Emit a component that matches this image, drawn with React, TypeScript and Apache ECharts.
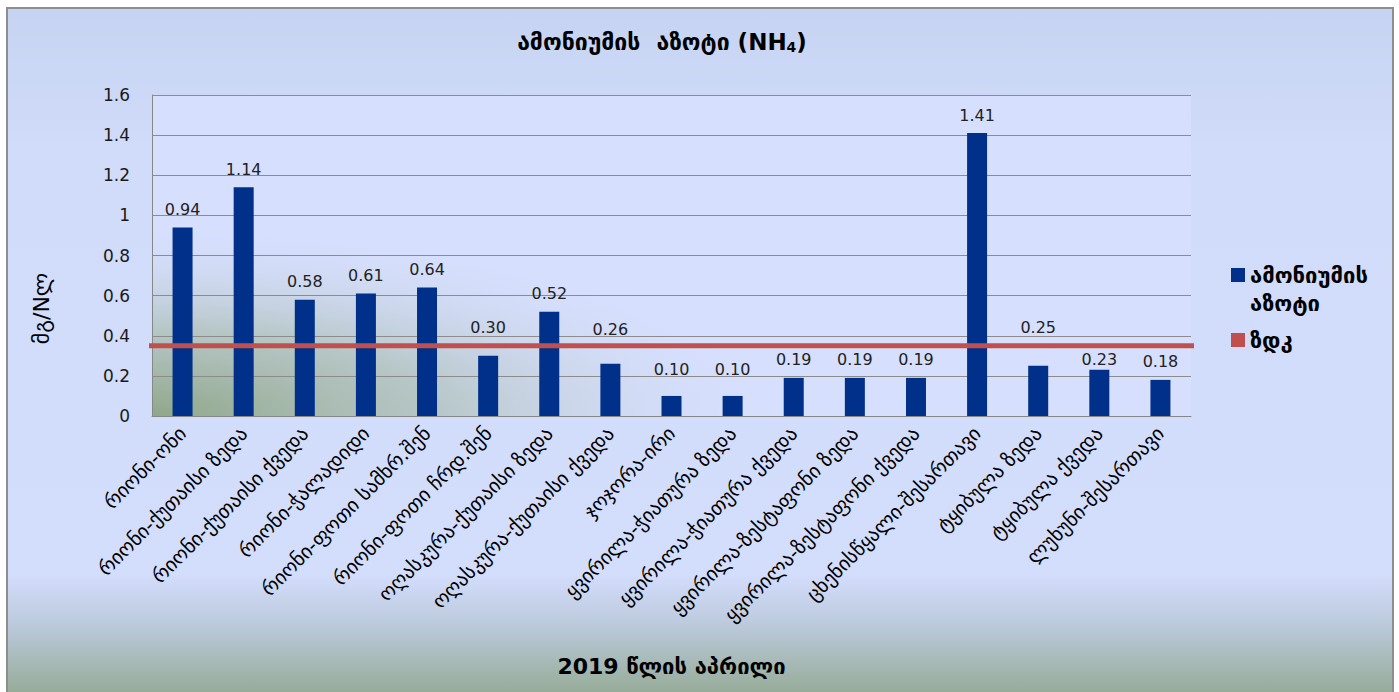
import React, { useEffect, useRef } from "react";
import * as echarts from "echarts";

// Sampling stations (April 2019)
const stations = [
  "რიონი-ონი",
  "რიონი-ქუთაისი ზედა",
  "რიონი-ქუთაისი ქვედა",
  "რიონი-ჭალადიდი",
  "რიონი-ფოთი სამხრ.შენ",
  "რიონი-ფოთი ჩრდ.შენ",
  "ოღასკურა-ქუთაისი ზედა",
  "ოღასკურა-ქუთაისი ქვედა",
  "ჯოჯორა-ირი",
  "ყვირილა-ჭიათურა ზედა",
  "ყვირილა-ჭიათურა ქვედა",
  "ყვირილა-ზესტაფონი ზედა",
  "ყვირილა-ზესტაფონი ქვედა",
  "ცხენისწყალი-შესართავი",
  "ტყიბულა ზედა",
  "ტყიბულა ქვედა",
  "ლუხუნი-შესართავი",
];

// Ammonium nitrogen, mg N/l
const ammonium = [
  0.94, 1.14, 0.58, 0.61, 0.64, 0.3, 0.52, 0.26, 0.1, 0.1, 0.19, 0.19, 0.19,
  1.41, 0.25, 0.23, 0.18,
];

// Maximum permissible concentration
const mpcValue = 0.35;

const seriesNames = ["ამონიუმის აზოტი", "ზდკ"];
const titleText = "ამონიუმის  აზოტი (NH{sub|4})";
const xAxisTitle = "2019 წლის აპრილი";
const yAxisTitle = "მგ/Nლ";

const yMin = 0;
const yMax = 1.6;
const yStep = 0.2;

const FONT = "'DejaVu Sans', 'Noto Sans', sans-serif";

// Per-bar adjustment of the value label gap, so labels clear the limit line
const labelLift: Record<number, number> = { 5: 10, 7: 16, 8: 8, 9: 8, 14: 20, 15: -8 };

// Horizontal span of the limit line on a hidden 0..1 value axis
const limitSpan = [-0.01, 1.016];

export default function App() {
  const ref = useRef<HTMLDivElement>(null);

  useEffect(() => {
    if (!ref.current) return;
    const chart = echarts.init(ref.current, undefined, { renderer: "svg" });

    const gridLeft = 152;
    const gridTop = 95;
    const gridRight = 208;
    const gridBottom = 276;
    const plotW = 1399 - gridLeft - gridRight;
    const plotH = 692 - gridTop - gridBottom;

    chart.setOption({
      animation: false,
      backgroundColor: "#ffffff",
      graphic: [
        {
          type: "rect",
          z: -10,
          silent: true,
          shape: { x: 7, y: 8, width: 1386, height: 700 },
          style: {
            fill: new echarts.graphic.LinearGradient(0, 0, 0, 1, [
              { offset: 0, color: "#c5d4f2" },
              { offset: 0.2, color: "#d1dbfa" },
              { offset: 0.81, color: "#d3ddfc" },
              { offset: 0.88, color: "#bccadc" },
              { offset: 1, color: "#8ea58a" },
            ]),
            stroke: "#8e8e8e",
            lineWidth: 2,
          },
        },
        {
          type: "rect",
          z: -9,
          silent: true,
          shape: { x: gridLeft, y: gridTop, width: plotW, height: plotH },
          style: { fill: "#d6dffd" },
        },
        {
          type: "rect",
          z: -8,
          silent: true,
          shape: { x: gridLeft, y: gridTop, width: plotW, height: plotH },
          style: {
            fill: new echarts.graphic.RadialGradient(0, 1, 0.6, [
              { offset: 0, color: "rgba(140,164,132,0.95)" },
              { offset: 0.45, color: "rgba(172,190,180,0.75)" },
              { offset: 1, color: "rgba(214,223,253,0)" },
            ]),
          },
        },
      ],
      title: {
        text: titleText,
        left: 662,
        top: 29,
        textAlign: "center",
        padding: 0,
        textStyle: {
          fontFamily: FONT,
          fontSize: 23,
          fontWeight: "bold",
          color: "#000",
          rich: {
            sub: {
              fontFamily: FONT,
              fontSize: 14,
              fontWeight: "bold",
              color: "#000",
              verticalAlign: "bottom",
              padding: [11, 0, 0, 0],
            },
          },
        },
      },
      legend: {
        orient: "vertical",
        left: 1226,
        top: 228,
        icon: "rect",
        itemWidth: 14,
        itemHeight: 14,
        itemGap: 9,
        // leading blank line keeps the swatch level with the first text line
        formatter: (name: string) =>
          name.indexOf(" ") >= 0 ? "\n" + name.replace(" ", "\n") : name,
        textStyle: {
          fontFamily: FONT,
          fontSize: 22,
          fontWeight: "bold",
          color: "#000",
          lineHeight: 28,
        },
        data: seriesNames,
      },
      grid: {
        left: gridLeft,
        right: gridRight,
        top: gridTop,
        bottom: gridBottom,
        containLabel: false,
      },
      xAxis: [
        {
          type: "category",
          data: stations,
          axisLine: { show: true, lineStyle: { color: "#878787", width: 1 } },
          axisTick: { show: false },
          axisLabel: {
            rotate: 45,
            margin: 14,
            interval: 0,
            fontFamily: FONT,
            fontSize: 20,
            color: "#000",
          },
          name: xAxisTitle,
          nameLocation: "middle",
          nameGap: 239,
          nameTextStyle: {
            fontFamily: FONT,
            fontSize: 22,
            fontWeight: "bold",
            color: "#000",
          },
        },
        {
          type: "value",
          min: 0,
          max: 1,
          show: false,
          splitLine: { show: false },
        },
      ],
      yAxis: {
        type: "value",
        min: yMin,
        max: yMax,
        interval: yStep,
        axisLine: { show: true, lineStyle: { color: "#878787", width: 1 } },
        axisTick: { show: false },
        splitLine: { show: true, lineStyle: { color: "#8c8c8c", width: 1 } },
        axisLabel: {
          margin: 22,
          fontFamily: FONT,
          fontSize: 17,
          color: "#1a1a1a",
        },
        name: yAxisTitle,
        nameLocation: "middle",
        nameGap: 100,
        nameRotate: 90,
        nameTextStyle: {
          fontFamily: FONT,
          fontSize: 22,
          color: "#000",
          padding: [0, 106, 0, 0],
        },
      },
      series: [
        {
          name: seriesNames[0],
          type: "bar",
          barWidth: 20,
          itemStyle: { color: "#00308a" },
          label: {
            show: true,
            position: "top",
            distance: 10,
            fontFamily: FONT,
            fontSize: 16,
            color: "#222",
            formatter: (p: any) => Number(p.value).toFixed(2),
          },
          data: ammonium.map((v, i) => ({
            value: v,
            label: { distance: 10 + (labelLift[i] ?? 0) },
          })),
          z: 2,
        },
        {
          name: seriesNames[1],
          type: "line",
          xAxisIndex: 1,
          symbol: "none",
          clip: false,
          silent: true,
          color: "#c0504d",
          lineStyle: { color: "#c0504d", width: 5 },
          data: limitSpan.map((x) => [x, mpcValue]),
          z: 3,
        },
      ],
    });

    return () => chart.dispose();
  }, []);

  return (
    <div
      ref={ref}
      style={{ position: "absolute", left: 0, top: 0, width: 1399, height: 692 }}
    />
  );
}
